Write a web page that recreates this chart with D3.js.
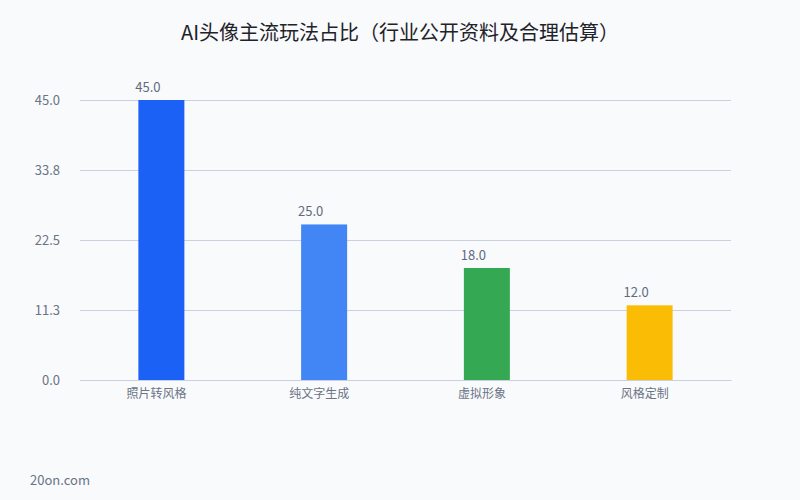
<!DOCTYPE html>
<html><head><meta charset="utf-8">
<script src="https://cdn.jsdelivr.net/npm/d3@7"></script>
<style>
html,body{margin:0;padding:0;background:#f8fafc;}
text{font-family:"Noto Sans CJK SC","Noto Sans",sans-serif;}
</style></head>
<body>
<svg id="chart" width="800" height="500"></svg>
<script>
const categories = ["照片转风格", "纯文字生成", "虚拟形象", "风格定制"];
const values = [45.0, 25.0, 18.0, 12.0];
const colors = ["#1c61f6", "#4285f4", "#34a853", "#fbbc05"];
const yTicks = [0, 11.25, 22.5, 33.75, 45];
const title = "AI头像主流玩法占比（行业公开资料及合理估算）";
const footer = "20on.com";

const svg = d3.select("#chart");
svg.append("rect").attr("width", 800).attr("height", 500).attr("fill", "#f8fafc");

const m = {left: 80, right: 69, top: 100, bottom: 120};
const x = d3.scaleBand().domain(categories).range([m.left, 800 - m.right]);
const y = d3.scaleLinear().domain([0, 45]).range([500 - m.bottom, m.top]);

svg.append("text").attr("x", 400).attr("y", 40).attr("text-anchor", "middle")
  .attr("font-size", 20).attr("fill", "#1f2329").text(title);

const yAxis = svg.append("g").attr("transform", `translate(${m.left},0)`)
  .call(d3.axisLeft(y).tickValues(yTicks).tickFormat(d => d.toFixed(1)).tickSize(-(800 - m.left - m.right)).tickPadding(20));
yAxis.select(".domain").remove();
yAxis.selectAll(".tick line").attr("stroke", "#c9d1e0").attr("stroke-width", 1);
yAxis.selectAll(".tick text").attr("fill", "#6b7385").attr("font-size", 13)
  .attr("font-family", '"Noto Sans CJK SC","Noto Sans",sans-serif');

const bw = 46;
const cx = i => x(categories[i]) + x.bandwidth() / 2;
svg.selectAll(".bar").data(values).enter().append("rect")
  .attr("x", (d, i) => cx(i) - bw / 2)
  .attr("y", d => y(d)).attr("width", bw).attr("height", d => y(0) - y(d))
  .attr("fill", (d, i) => colors[i]);

svg.selectAll(".val").data(values).enter().append("text")
  .attr("x", (d, i) => cx(i) - 13.5)
  .attr("y", d => y(d) - 8).attr("text-anchor", "middle")
  .attr("font-size", 13).attr("fill", "#5f6a7e").text(d => d.toFixed(1));

const xAxis = svg.append("g").attr("transform", `translate(0,${y(0)})`)
  .call(d3.axisBottom(x).tickSize(0).tickPadding(9));
xAxis.select(".domain").attr("stroke", "#c9d1e0");
xAxis.selectAll(".tick text").attr("fill", "#6b7385").attr("font-size", 12)
  .attr("dx", -5)
  .attr("font-family", '"Noto Sans CJK SC","Noto Sans",sans-serif');

svg.append("text").attr("x", 30).attr("y", 485).attr("font-size", 13)
  .attr("fill", "#6b7385").text(footer);
</script>
</body></html>
